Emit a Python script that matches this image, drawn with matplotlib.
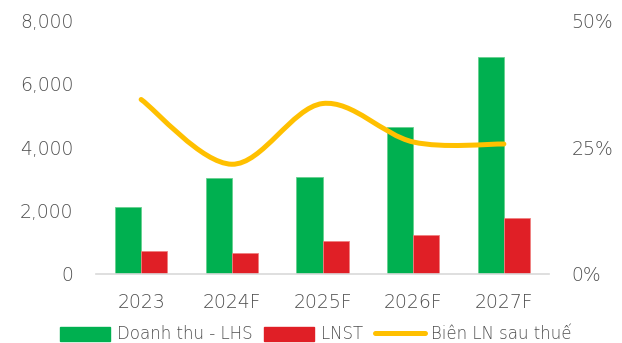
import matplotlib
matplotlib.use("Agg")
import matplotlib.pyplot as plt
import numpy as np
from matplotlib.path import Path
from matplotlib.patches import PathPatch, Patch
from matplotlib.lines import Line2D
from matplotlib.ticker import FuncFormatter

plt.rcParams['font.family'] = ['DejaVu Sans']
plt.rcParams['font.weight'] = 'light'

categories = ["2023", "2024F", "2025F", "2026F", "2027F"]
revenue = [2090, 3020, 3060, 4630, 6850]
npat = [720, 640, 1030, 1210, 1755]
margin = [34.4, 21.6, 33.6, 26.0, 25.6]

green = "#00B050"
red = "#E01F26"
yellow = "#FFC000"
gray = "#4D4D4D"

fig = plt.figure(figsize=(6.22, 3.43), dpi=100)
ax = fig.add_axes([0.154, 0.2026, 0.729, 0.7374])
x = np.arange(len(categories))
w = 0.287
ax.bar(x - w / 2, revenue, w, color=green, edgecolor="#66D08F", linewidth=0.6)
ax.bar(x + w / 2, npat, w, color=red, edgecolor="#F08080", linewidth=0.6)
ax.set_xlim(-0.5, len(categories) - 0.5)
ax.set_ylim(0, 8000)
ax.set_yticks([0, 2000, 4000, 6000, 8000])
ax.yaxis.set_major_formatter(FuncFormatter(lambda v, p: f"{int(v):,}"))
ax.set_xticks(x)
ax.set_xticklabels(categories)
for s in ["top", "right", "left"]:
    ax.spines[s].set_visible(False)
ax.spines["bottom"].set_color("#D9D9D9")
ax.spines["bottom"].set_linewidth(1.2)
ax.tick_params(axis="both", length=0, labelsize=13.5, colors=gray)
ax.tick_params(axis="y", pad=16)
ax.tick_params(axis="x", pad=14)

ax2 = ax.twinx()
ax2.set_ylim(0, 50)
ax2.set_yticks([0, 25, 50])
ax2.yaxis.set_major_formatter(FuncFormatter(lambda v, p: f"{int(v)}%"))
for s in ax2.spines.values():
    s.set_visible(False)
ax2.tick_params(axis="y", length=0, labelsize=13.5, colors=gray, pad=16)

# smooth curve through the data points (Bezier segments)
pts = np.column_stack([x, margin]).astype(float)
n = len(pts)
verts = [tuple(pts[0])]
codes = [Path.MOVETO]
for i in range(n - 1):
    p0 = pts[i - 1] if i > 0 else pts[i]
    p1 = pts[i]
    p2 = pts[i + 1]
    p3 = pts[i + 2] if i + 2 < n else pts[i + 1]
    c1 = p1 + (p2 - p0) / 6
    c2 = p2 - (p3 - p1) / 6
    verts += [tuple(c1), tuple(c2), tuple(p2)]
    codes += [Path.CURVE4] * 3
ax2.add_patch(PathPatch(Path(verts, codes), fill=False, edgecolor=yellow,
                        linewidth=3.6, capstyle="round", joinstyle="round"))

handles = [Patch(color=green), Patch(color=red),
           Line2D([0], [0], color=yellow, lw=3.6, solid_capstyle="round")]
labels = ["Doanh thu - LHS", "LNST", "Biên LN sau thuế"]
fig.legend(handles, labels, loc="center", bbox_to_anchor=(0.508, 0.025), ncol=3,
           frameon=False, fontsize=12, handlelength=3.0, handleheight=0.9,
           handletextpad=0.4, columnspacing=0.7, labelcolor=gray, borderpad=0)

fig.savefig("out.png", dpi=100)
